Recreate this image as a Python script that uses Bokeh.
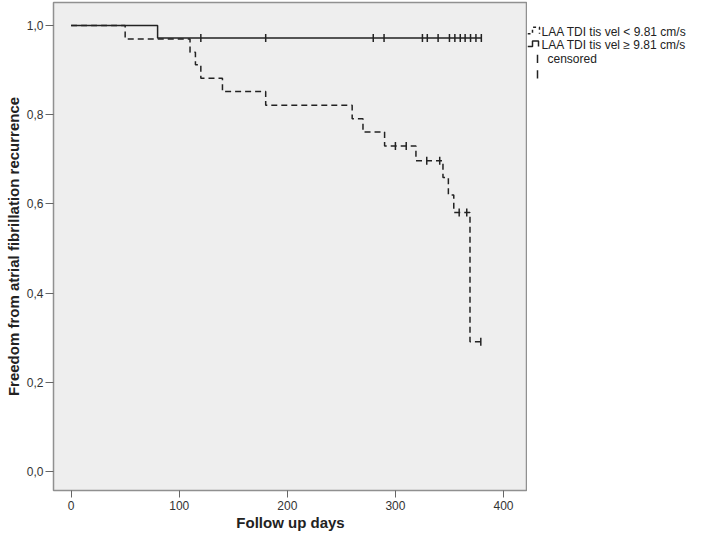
import numpy as np
from bokeh.plotting import figure
from bokeh.layouts import row
from bokeh.models import FixedTicker, Range1d
from bokeh.core.properties import value
from bokeh.embed import file_html
from bokeh.resources import INLINE

# Kaplan-Meier step data, group LAA TDI tis vel < 9.81 cm/s (dashed)
low_time = [0, 50, 110, 115, 120, 140, 180, 260, 270, 290, 319, 344, 349, 354, 369, 380]
low_surv = [1.0, 0.970, 0.940, 0.912, 0.882, 0.852, 0.821, 0.791, 0.761, 0.730, 0.697, 0.659, 0.620, 0.581, 0.291, 0.291]
low_cens_time = [300, 310, 329, 341, 359, 366, 379]
low_cens_surv = [0.730, 0.730, 0.697, 0.697, 0.581, 0.581, 0.291]

# group LAA TDI tis vel >= 9.81 cm/s (solid)
high_time = [0, 80, 380]
high_surv = [1.0, 0.972, 0.972]
high_cens_time = [120, 180, 279.5, 289.5, 325, 329.5, 339.5, 350, 355, 360, 364.5, 369.5, 374.5, 379.5]
high_cens_surv = [0.972] * len(high_cens_time)

x_ticks = [0, 100, 200, 300, 400]
y_ticks = [0.0, 0.2, 0.4, 0.6, 0.8, 1.0]
y_tick_labels = ["0,0", "0,2", "0,4", "0,6", "0,8", "1,0"]
legend_labels = ["LAA TDI tis vel < 9.81 cm/s", "LAA TDI tis vel \u2265 9.81 cm/s", "censored"]

FONT = "Liberation Sans"
INK = "#222222"

p = figure(width=527, height=533, output_backend="svg", toolbar_location=None,
           x_range=(-16.3, 422.2), y_range=(-0.0426, 1.0516),
           min_border_left=53, min_border_right=0, min_border_top=2, min_border_bottom=43)
p.background_fill_color = "#EEEEEE"
p.border_fill_color = "white"
p.outline_line_color = "#909090"
p.outline_line_width = 1.5
p.grid.visible = False

p.xaxis.axis_label = "Follow up days"
p.yaxis.axis_label = "Freedom from atrial fibrillation recurrence"
for ax in (p.xaxis, p.yaxis):
    ax.axis_label_text_font = FONT
    ax.axis_label_text_font_style = "bold"
    ax.axis_label_text_font_size = "15px"
    ax.axis_label_text_color = INK
    ax.major_label_text_font = FONT
    ax.major_label_text_font_size = "12px"
    ax.major_label_text_color = "#333333"
    ax.axis_line_color = None
    ax.major_tick_line_color = "#666666"
    ax.major_tick_in = 0
    ax.minor_tick_line_color = None
p.xaxis.major_tick_out = 7
p.xaxis.major_label_standoff = 3
p.xaxis.axis_label_standoff = 1
p.yaxis.major_tick_out = 8
p.yaxis.major_label_standoff = 2
p.yaxis.axis_label_standoff = 2
p.xaxis.ticker = FixedTicker(ticks=x_ticks)
p.yaxis.ticker = FixedTicker(ticks=y_ticks)
p.yaxis.major_label_overrides = {t: l for t, l in zip(y_ticks, y_tick_labels)}

p.step(low_time, low_surv, mode="after", line_color=INK, line_width=1.5, line_dash="6 4")
p.step(high_time, high_surv, mode="after", line_color=INK, line_width=1.5)
p.scatter(low_cens_time, low_cens_surv, marker="dash", angle=np.pi / 2, size=8,
          line_color=INK, line_width=1.5)
p.scatter(high_cens_time, high_cens_surv, marker="dash", angle=np.pi / 2, size=8,
          line_color=INK, line_width=1.5)

# legend panel (pixel coordinates, origin top-left)
lg = figure(width=160, height=533, output_backend="svg", toolbar_location=None,
            x_range=Range1d(0, 160), y_range=Range1d(533, 0),
            min_border_left=0, min_border_right=0, min_border_top=0, min_border_bottom=0)
lg.axis.visible = False
lg.grid.visible = False
lg.outline_line_color = None
lg.background_fill_color = "white"
lg.border_fill_color = "white"

lg.line([0, 5, 5, 12, 12], [34, 34, 27, 27, 34], line_color=INK, line_width=1.5, line_dash="3 3")
lg.line([0, 5, 5, 11, 11], [48, 48, 42, 42, 48], line_color=INK, line_width=1.5)
lg.segment(x0=[10, 10], y0=[57, 74], x1=[10, 10], y1=[66, 83], line_color=INK, line_width=1.5)
lg.text(x=[14, 14, 20], y=[32, 46, 62], text=legend_labels, text_font=value(FONT),
        text_font_size="12px", text_color=INK, text_baseline="middle", text_align="left")

layout = row(p, lg)
open("out.html", "w").write(file_html(layout, INLINE))
